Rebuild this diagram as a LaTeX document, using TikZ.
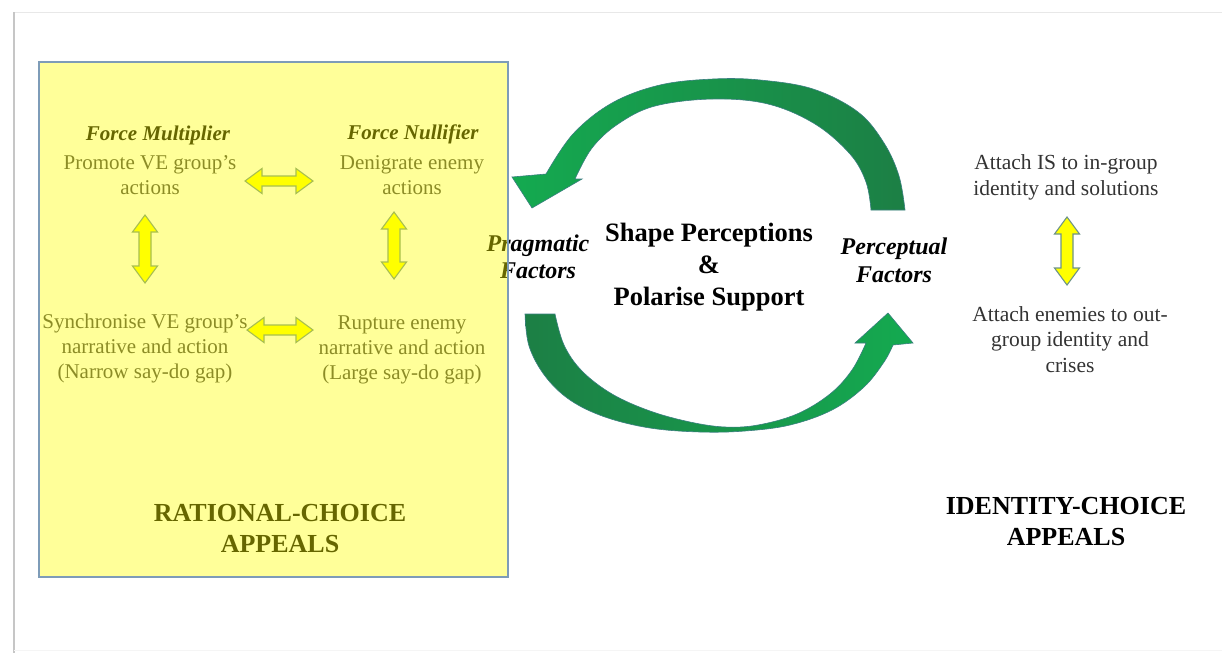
\documentclass[tikz,border=0pt]{standalone}
\usepackage{fontspec}
\setmainfont{Liberation Serif}
\usetikzlibrary{calc}

\definecolor{textgray}{HTML}{404040}
\definecolor{rightgray}{HTML}{333333}
\definecolor{panelyellow}{HTML}{FFFF00}
\definecolor{panelborder}{HTML}{7E9CB8}
\definecolor{dblyellow}{HTML}{FFFF00}
\definecolor{dbledge}{HTML}{6E9488}
\definecolor{gdark}{HTML}{1C7F45}
\definecolor{gbright}{HTML}{14AA50}
\definecolor{gedge}{HTML}{3A7F80}

% horizontal double arrow: x1, x2, y
\newcommand\yharrow[3]{%
  \draw[yarrow] (#1,#3) -- (#1+17,#3-12.5) -- (#1+17,#3-5) -- (#2-17,#3-5)
    -- (#2-17,#3-12.5) -- (#2,#3) -- (#2-17,#3+12.5) -- (#2-17,#3+5)
    -- (#1+17,#3+5) -- (#1+17,#3+12.5) -- cycle;}
% vertical double arrow: x, y1, y2
\newcommand\yvarrow[3]{%
  \draw[yarrow] (#1,#2) -- (#1+12.5,#2+17) -- (#1+6,#2+17) -- (#1+6,#3-17)
    -- (#1+12.5,#3-17) -- (#1,#3) -- (#1-12.5,#3-17) -- (#1-6,#3-17)
    -- (#1-6,#2+17) -- (#1-12.5,#2+17) -- cycle;}

\begin{document}
\begin{tikzpicture}[x=1pt,y=-1pt,
  txt/.style={inner sep=0pt, align=center,
    execute at begin node=\strut, execute at end node=\strut},
  body/.style={txt, text=textgray, font=\fontsize{21}{25}\selectfont},
  head/.style={txt, text=black, font=\fontsize{21}{25}\selectfont\bfseries\itshape},
  factor/.style={txt, text=black, font=\fontsize{24}{27.5}\selectfont\bfseries\itshape},
  appeal/.style={txt, text=black, font=\fontsize{26}{31}\selectfont\bfseries},
  core/.style={txt, text=black, font=\fontsize{26.5}{32}\selectfont\bfseries},
  side/.style={txt, text=rightgray, font=\fontsize{21.5}{25.5}\selectfont},
  yarrow/.style={fill=dblyellow, draw=dbledge, line width=1.1pt, line join=miter},
  garrow/.style={draw=gedge, line width=0.6pt}]

\useasboundingbox (0,0) rectangle (1222,653);
\fill[white] (0,0) rectangle (1222,653);

% page frame
\draw[gray!18, line width=1.5pt] (13,12.5) -- (1222,12.5);
\draw[gray!45, line width=2.5pt] (14,12) -- (14,653);
\draw[gray!8, line width=1pt] (14,650) -- (1222,650);

% rational-choice panel contents
\node[head] (fm) at (158,135) {Force Multiplier};
\node[body] (promote) at (150,178.5) {Promote VE group’s\\actions};
\node[head] (fn) at (413,134) {Force Nullifier};
\node[body] (denigrate) at (412,178.5) {Denigrate enemy\\actions};
\node[body] (sync) at (145,350) {Synchronise VE group’s\\narrative and action\\(Narrow say-do gap)};
\node[body] (rupture) at (402,351) {Rupture enemy\\narrative and action\\(Large say-do gap)};
\node[appeal] (rational) at (280,533) {RATIONAL-CHOICE\\APPEALS};

\yharrow{245}{313}{181}
\yharrow{247}{313}{330}
\yvarrow{145}{215}{283}
\yvarrow{394}{212}{279}

% centre of the cycle
\node[factor] (pragmatic) at (538,261) {Pragmatic\\Factors};
\node[core] (shape) at (709,269) {Shape Perceptions\\\&\\Polarise Support};
\node[factor] (perceptual) at (894,264.5) {Perceptual\\Factors};

% upper curved arrow, running right to left
\shadedraw[garrow, left color=gbright, right color=gdark]
  (871,210) -- (905,210)
  -- plot[smooth, tension=0.6] coordinates {(905,210) (899,176) (884,143) (858,112) (813,89) (760,80) (713,79) (660,85) (612,103) (573,134) (546,174)}
  -- (512,177) -- (532,208) -- (582,179) -- (575,179)
  -- plot[smooth, tension=0.6] coordinates {(575,179) (592,148) (618,124) (655,106) (713,99) (768,104) (815,124) (850,154) (866,182) (871,210)}
  -- cycle;

% lower curved arrow, running left to right
\shadedraw[garrow, left color=gdark, right color=gbright]
  (555,314) -- (525,314)
  -- plot[smooth, tension=0.6] coordinates {(525,314) (529,346) (545,376) (570,400) (605,417) (650,428) (700,432) (745,431) (790,425) (832,410) (864,387) (884,362) (893,345)}
  -- (913,343) -- (888,313) -- (855,343) -- (866,343)
  -- plot[smooth, tension=0.6] coordinates {(866,343) (852,370) (830,394) (797,414) (758,425) (725,427) (690,422) (650,411) (612,394) (582,371) (564,345) (555,314)}
  -- cycle;

% identity-choice side
\node[side] (ingroup) at (1066,179) {Attach IS to in-group\\identity and solutions};
\node[side] (outgroup) at (1070,343) {Attach enemies to out-\\group identity and\\crises};
\yvarrow{1067}{217}{285}
\node[appeal] (identity) at (1066,526) {IDENTITY-CHOICE\\APPEALS};

% translucent panel laid over its contents
\node[draw=panelborder, line width=1.2pt, fill=panelyellow, fill opacity=0.4,
      minimum width=469pt, minimum height=515pt, inner sep=0pt]
      (rcpanel) at (273.5,319.5) {};

\end{tikzpicture}
\end{document}
